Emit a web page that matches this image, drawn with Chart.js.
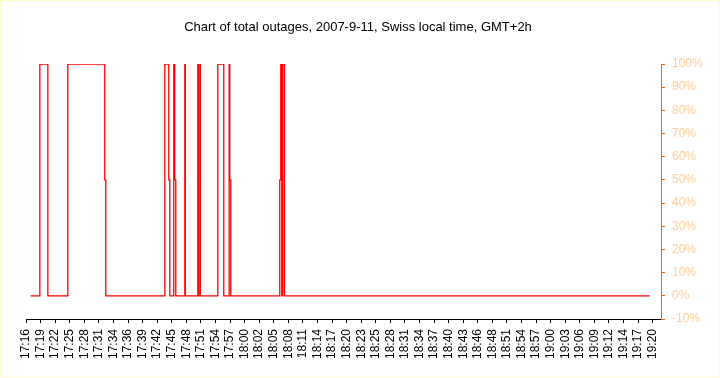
<!DOCTYPE html>
<html>
<head>
<meta charset="utf-8">
<script src="https://cdn.jsdelivr.net/npm/chart.js@4/dist/chart.umd.min.js"></script>
<style>
  body { margin: 0; background: #fff; }
</style>
</head>
<body>
<canvas id="chart1" width="720" height="378"></canvas>
<script>
// tiempos de cambio de estado (hora local) y el valor nuevo en %
const changeTimes = [
  '17:17:43', '17:19:33', '17:21:08', '17:25:05', '17:32:23', '17:32:35',
  '17:44:15', '17:45:02', '17:45:14', '17:46:01', '17:46:13', '17:46:25',
  '17:48:12', '17:48:18', '17:50:46', '17:50:52', '17:51:10', '17:51:16',
  '17:54:43', '17:55:54', '17:56:58', '17:57:05', '17:57:17',
  '18:06:58', '18:07:10', '18:07:22', '18:07:34', '18:07:54', '19:20:04'
];
const outageValues = [
  0, 100, 0, 100, 50, 0,
  100, 50, 0, 100, 50, 0,
  100, 0, 100, 0, 100, 0,
  100, 0, 100, 50, 0,
  50, 100, 0, 100, 0, 0
];
const timeLabels = [
  '17:16', '17:19', '17:22', '17:25', '17:28', '17:31', '17:34', '17:36', '17:39', '17:42', '17:45',
  '17:48', '17:51', '17:54', '17:57', '18:00', '18:02', '18:05', '18:08', '18:11', '18:14', '18:17',
  '18:20', '18:23', '18:25', '18:28', '18:31', '18:34', '18:37', '18:40', '18:43', '18:46', '18:48',
  '18:51', '18:54', '18:57', '19:00', '19:03', '19:06', '19:09', '19:12', '19:14', '19:17', '19:20'
];
const chartTitle = 'Chart of total outages, 2007-9-11, Swiss local time, GMT+2h';

// minutos del dia
function toMinutes(t) {
  const p = t.split(':').map(Number);
  return p[0] * 60 + p[1] + (p[2] || 0) / 60;
}

const tickStart = toMinutes('17:16:49');
const tickStep = 2.88;
const xMax = toMinutes('19:22:18');

const points = changeTimes.map((t, i) => ({ x: toMinutes(t), y: outageValues[i] }));

// fondo, borde amarillo y titulo centrado en el lienzo
const framePlugin = {
  id: 'frame',
  beforeDraw(chart) {
    const ctx = chart.ctx;
    ctx.save();
    ctx.fillStyle = '#ffffff';
    ctx.fillRect(0, 0, chart.width, chart.height);
    ctx.strokeStyle = '#ffffcc';
    ctx.lineWidth = 1;
    ctx.strokeRect(0.5, 0.5, chart.width - 1, chart.height - 1);
    ctx.fillStyle = '#000';
    ctx.font = '13px "Liberation Sans", Arial, sans-serif';
    ctx.textAlign = 'center';
    ctx.textBaseline = 'middle';
    ctx.fillText(chartTitle, 358, 27);
    ctx.restore();
  }
};

const ctx = document.getElementById('chart1').getContext('2d');
new Chart(ctx, {
  type: 'line',
  data: {
    datasets: [{
      label: 'outages',
      data: points,
      borderColor: '#ff0000',
      borderWidth: 1.3,
      stepped: true,
      pointRadius: 0,
      fill: false
    }]
  },
  options: {
    responsive: false,
    animation: false,
    devicePixelRatio: 1,
    layout: { autoPadding: false, padding: { left: 26, right: 0, top: 64, bottom: 0 } },
    plugins: {
      legend: { display: false },
      tooltip: { enabled: false },
      title: { display: false }
    },
    scales: {
      x: {
        type: 'linear',
        min: tickStart,
        max: xMax,
        afterBuildTicks: (axis) => {
          axis.ticks = timeLabels.map((l, i) => ({ value: tickStart + i * tickStep }));
        },
        afterFit: (axis) => { axis.height = 59; },
        ticks: {
          autoSkip: false,
          maxRotation: 90,
          minRotation: 90,
          padding: 6,
          color: '#000',
          font: { family: 'Liberation Sans, Arial, sans-serif', size: 12 },
          callback: (value, index) => timeLabels[index]
        },
        grid: { drawOnChartArea: false, tickLength: 4, color: '#000' },
        border: { color: '#000' }
      },
      y: {
        position: 'right',
        min: -10,
        max: 100,
        afterFit: (axis) => { axis.width = 59; },
        ticks: {
          stepSize: 10,
          padding: 7,
          color: '#ffcc99',
          font: { family: 'Liberation Sans, Arial, sans-serif', size: 12 },
          callback: (v) => v + '%'
        },
        grid: { drawOnChartArea: false, tickLength: 4, color: '#ff6600' },
        border: { color: '#ff6600' }
      }
    }
  },
  plugins: [framePlugin]
});
</script>
</body>
</html>
